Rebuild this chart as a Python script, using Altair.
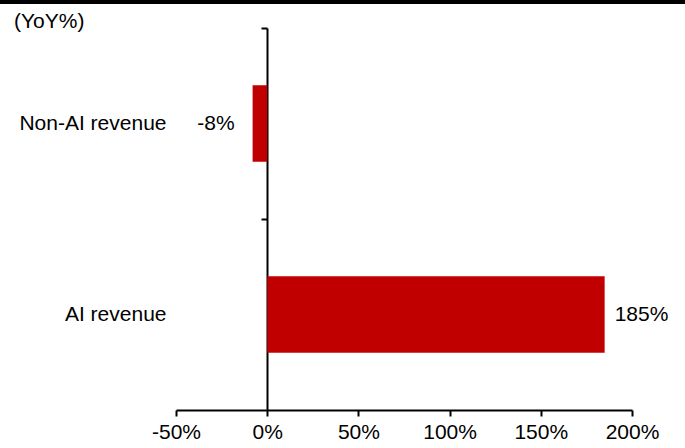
import altair as alt
import pandas as pd

categories = ["Non-AI revenue", "AI revenue"]
yoy_values = [-8, 185]
value_labels = ["-8%", "185%"]
x_ticks = [-50, 0, 50, 100, 150, 200]

df = pd.DataFrame({"cat": categories, "yoy": yoy_values, "label": value_labels})

FONT = "Liberation Sans"
FS = 21
RED = "#C00000"

x_scale = alt.Scale(domain=[-50, 200], nice=False, zero=False)
x_enc = alt.X(
    "yoy:Q",
    scale=x_scale,
    axis=alt.Axis(
        values=x_ticks, labelExpr="datum.value + '%'", title=None, grid=False,
        domainColor="black", domainWidth=2, tickColor="black", tickWidth=2, tickSize=6,
        labelFont=FONT, labelFontSize=FS, labelColor="black", labelPadding=5,
        labelFlush=False, labelOverlap=False, labelBound=False,
    ),
)

y_scale = alt.Scale(domain=categories, paddingInner=0.6, paddingOuter=0.3)

bars = alt.Chart(df).mark_bar(color=RED).encode(
    x=x_enc,
    y=alt.Y("cat:N", scale=y_scale, sort=categories,
            axis=alt.Axis(title=None, domain=False, ticks=False, labelPadding=10,
                          labelFont=FONT, labelFontSize=FS, labelColor="black")),
)

zero_axis = alt.Chart(df).mark_bar(opacity=0).encode(
    x=x_enc,
    y=alt.Y("cat:N", scale=y_scale, sort=categories,
            axis=alt.Axis(title=None, labels=False, domain=True, ticks=True, bandPosition=-0.75,
                          offset=-91, domainColor="black", domainWidth=2, tickColor="black",
                          tickWidth=2, tickSize=6, orient="left")),
)

pos_text = alt.Chart(df).transform_filter("datum.yoy >= 0").mark_text(
    align="left", baseline="middle", dx=10, font=FONT, fontSize=FS, color="black"
).encode(
    x=x_enc,
    y=alt.Y("cat:N", scale=y_scale, sort=categories, axis=None),
    text="label:N",
)

neg_text = alt.Chart(df).transform_filter("datum.yoy < 0").mark_text(
    align="right", baseline="middle", dx=-18, font=FONT, fontSize=FS, color="black"
).encode(
    x=x_enc,
    y=alt.Y("cat:N", scale=y_scale, sort=categories, axis=None),
    text="label:N",
)

top_line = alt.Chart(df).mark_rule(color="black", strokeWidth=4).encode(
    x=alt.value(-176), x2=alt.value(509), y=alt.value(-26)
)

unit_text = alt.Chart(pd.DataFrame({"t": ["(YoY%)"]})).mark_text(
    align="left", baseline="middle", font=FONT, fontSize=FS, color="black"
).encode(x=alt.value(-162), y=alt.value(-6), text="t:N")

chart = alt.layer(bars, zero_axis, pos_text, neg_text, top_line, unit_text).resolve_axis(
    y="independent"
).properties(
    width=456, height=382,
    autosize=alt.AutoSizeParams(type="none"),
    padding={"left": 176, "top": 28, "right": 53, "bottom": 38},
    background="white",
).configure_view(stroke=None)

chart.save("out.html", embed_options={"renderer": "svg", "actions": False})
